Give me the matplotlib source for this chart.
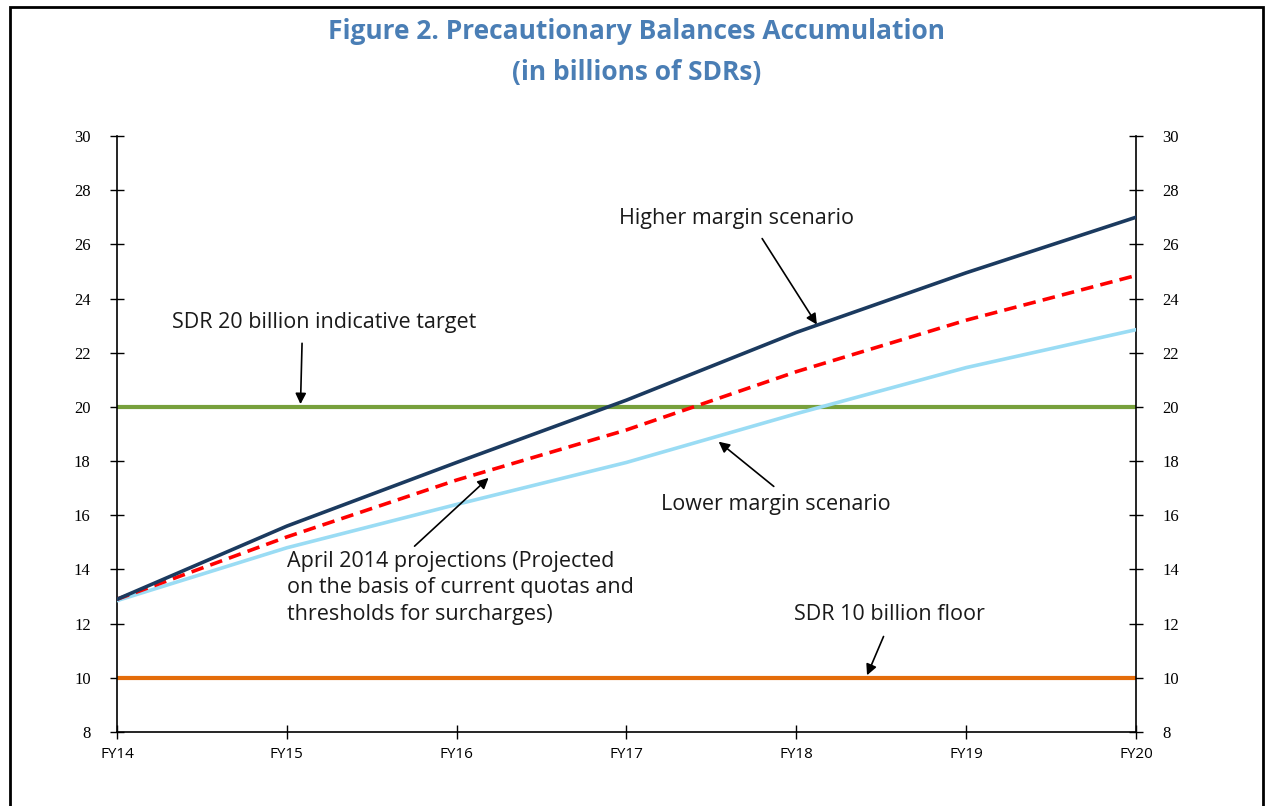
import matplotlib.pyplot as plt
from matplotlib.patches import Rectangle
import numpy as np

years = ['FY14', 'FY15', 'FY16', 'FY17', 'FY18', 'FY19', 'FY20']
higher = [12.9, 15.6, 17.95, 20.25, 22.75, 24.95, 27.0]
april = [12.9, 15.2, 17.3, 19.15, 21.3, 23.2, 24.85]
lower = [12.85, 14.8, 16.4, 17.95, 19.75, 21.45, 22.85]
target = 20
floor = 10

sans = ['Open Sans', 'DejaVu Sans']
serif = ['Liberation Serif', 'DejaVu Serif']

fig = plt.figure(figsize=(12.65, 8.06), dpi=100)
ax = fig.add_axes([0.0925, 0.0918, 0.8055, 0.7395])

x = np.arange(len(years))
ax.plot(x, [target] * len(x), color='#77A03C', lw=3.0, zorder=2)
ax.plot(x, [floor] * len(x), color='#E46C0A', lw=3.0, zorder=2)
ax.plot(x, lower, color='#9ADCF4', lw=2.6, zorder=3)
ax.plot(x, april, color='#FF0000', lw=2.6, ls=(0, (3.5, 2)), zorder=4)
ax.plot(x, higher, color='#1B3A5F', lw=2.6, zorder=5)

ax.set_xlim(0, 6)
ax.set_ylim(8, 30)
ax.set_xticks(x)
ax.set_xticklabels(years, family=sans, fontsize=11)
ax.set_yticks(np.arange(8, 31, 2))
ax.tick_params(axis='y', direction='inout', length=10, width=1, labelsize=12,
               right=True, labelright=True, pad=14)
ax.tick_params(axis='x', direction='inout', length=10, width=1, pad=6)
for lab in ax.get_yticklabels():
    lab.set_family(serif)
ax.spines['top'].set_visible(False)
for side in ['left', 'right', 'bottom']:
    ax.spines[side].set_linewidth(1.2)

arrow = dict(arrowstyle='-|>', color='black', lw=1.2, mutation_scale=16)
txt = dict(fontsize=15.5, family=sans, color='#1a1a1a')

ax.annotate('', xy=(4.13, 22.95), xytext=(3.79, 26.3), arrowprops=arrow)
ax.text(3.65, 26.95, 'Higher margin scenario', ha='center', va='center', **txt)

ax.annotate('', xy=(1.08, 20.0), xytext=(1.09, 22.45), arrowprops=arrow)
ax.text(1.22, 23.13, 'SDR 20 billion indicative target', ha='center', va='center', **txt)

ax.annotate('', xy=(3.53, 18.78), xytext=(3.88, 17.0), arrowprops=arrow)
ax.text(3.88, 16.38, 'Lower margin scenario', ha='center', va='center', **txt)

ax.annotate('', xy=(2.2, 17.45), xytext=(1.74, 14.79), arrowprops=arrow)
ax.text(1.0, 13.32, 'April 2014 projections (Projected\non the basis of current quotas and\nthresholds for surcharges)',
        ha='left', va='center', linespacing=1.35, **txt)

ax.annotate('', xy=(4.41, 10.0), xytext=(4.52, 11.62), arrowprops=arrow)
ax.text(4.55, 12.32, 'SDR 10 billion floor', ha='center', va='center', **txt)

fig.text(0.5035, 0.961, 'Figure 2. Precautionary Balances Accumulation', ha='center', va='center',
         fontsize=19, fontweight='bold', color='#4A7EB5', family=sans)
fig.text(0.5035, 0.910, '(in billions of SDRs)', ha='center', va='center',
         fontsize=19, fontweight='bold', color='#4A7EB5', family=sans)

fig.patches.append(Rectangle((10 / 1265, -0.01), 1253 / 1265, 1.0013, transform=fig.transFigure,
                             fill=False, edgecolor='black', lw=2))

fig.savefig('out.png', dpi=100)
